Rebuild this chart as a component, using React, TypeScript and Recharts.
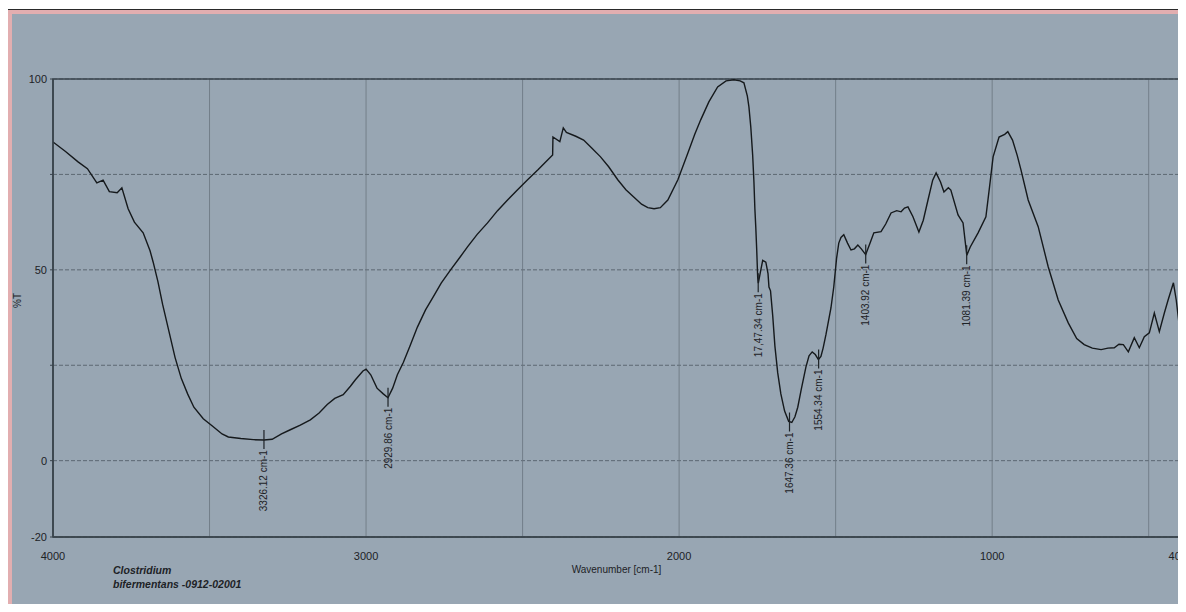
import {
  LineChart,
  Line,
  XAxis,
  YAxis,
  CartesianGrid,
  ReferenceArea,
  ReferenceDot,
  ReferenceLine,
} from "recharts";

// FTIR spectrum, wavenumber (cm-1) against %T
const wavenumbers = [
  4000, 3960, 3920, 3890, 3860, 3840, 3820, 3795, 3780, 3760, 3740, 3712, 3690, 3680, 3665, 3650,
  3630, 3610, 3590, 3570, 3550, 3520, 3490, 3460, 3440, 3400, 3360, 3326, 3300, 3270, 3242, 3210,
  3178, 3150, 3124, 3100, 3073, 3050, 3034, 3010, 3000, 2985, 2965, 2945, 2930, 2915, 2900, 2881,
  2860, 2836, 2810, 2785, 2760, 2730, 2700, 2676, 2645, 2612, 2580, 2548, 2516, 2484, 2450, 2420,
  2404, 2403, 2381, 2370, 2360, 2330, 2305, 2280, 2251, 2225, 2196, 2170, 2145, 2120, 2100, 2080,
  2060, 2036, 2004, 1972, 1950, 1931, 1905, 1877, 1850, 1825, 1805, 1793, 1782, 1777, 1771, 1765,
  1761, 1758, 1755, 1752, 1749, 1747, 1740, 1733, 1723, 1716, 1713, 1708, 1701, 1694, 1685, 1675,
  1663, 1650, 1640, 1630, 1621, 1610, 1595, 1585, 1575, 1565, 1555, 1547, 1540, 1531, 1515, 1506,
  1497, 1490, 1483, 1474, 1462, 1451, 1440, 1429, 1418, 1404, 1390, 1378, 1355, 1340, 1323, 1305,
  1291, 1280, 1269, 1253, 1234, 1220, 1205, 1190, 1179, 1165, 1154, 1140, 1132, 1109, 1093, 1081,
  1070, 1045, 1020, 1008, 997, 978, 960, 950, 935, 920, 908, 885, 853, 821, 789, 757,
  730, 706, 680, 652, 630, 610, 595, 581, 565, 546, 530, 514, 498, 482, 466, 450,
  438, 421, 412, 402,
];

const transmittance = [
  83.5, 81, 78.3, 76.5, 72.8, 73.5, 70.5, 70.2, 71.5, 66, 62.5, 59.7, 55, 52, 47, 41,
  34, 27, 21.5, 17.5, 14, 11, 9, 7, 6.2, 5.8, 5.5, 5.4, 5.6, 7, 8.1, 9.3,
  10.7, 12.5, 14.7, 16.3, 17.3, 19.5, 21.2, 23.5, 24, 22.5, 19, 17.5, 16.5, 19, 22.5, 25.7,
  30, 35, 39.5, 43, 46.5, 50, 53.3, 56, 59.3, 62.3, 65.5, 68.3, 71, 73.6, 76.3, 78.8,
  80.1, 84.8, 83.6, 87.2, 86, 85, 84, 82, 79.6, 77, 73.6, 71, 69.1, 67.2, 66.3, 66,
  66.3, 68.3, 73.6, 80.6, 85.5, 89.3, 94, 97.9, 99.5, 99.8, 99.5, 99, 95.5, 92.7, 87.4, 80,
  73, 66, 61, 55, 48, 46.5, 49.5, 52.5, 52, 49, 45.5, 44.5, 38, 30, 23, 17.5,
  13, 10.3, 10, 11.5, 14, 18.6, 24.5, 27.5, 28.5, 27.8, 26.5, 27.3, 29.5, 33, 40, 45.5,
  53, 57, 58.5, 59.2, 57, 55.2, 55.5, 56.5, 55.5, 54, 57, 59.7, 60, 62, 64.9, 65.5,
  65.2, 66.2, 66.5, 63.9, 59.9, 63, 68.3, 73.5, 75.4, 73, 70.4, 71.5, 70.9, 64.4, 62.3, 53.8,
  56, 59.7, 63.9, 72, 79.6, 84.8, 85.5, 86.2, 84, 80, 76.2, 68.3, 61.3, 50.8, 42.1, 36.1,
  32, 30.4, 29.5, 29.1, 29.5, 29.6, 30.5, 30.4, 28.5, 32.2, 29.6, 32.5, 33.5, 38.7, 33.8, 38.7,
  42.1, 46.6, 42.1, 35.1,
];

// picked peaks
const peakWavenumbers = [3326.12, 2929.86, 1747.34, 1647.36, 1554.34, 1403.92, 1081.39];
const peakValues = [5.4, 16.5, 46.5, 10, 26.5, 54, 53.8];
const peakLabels = [
  "3326.12 cm-1",
  "2929.86 cm-1",
  "17,47.34 cm-1",
  "1647.36 cm-1",
  "1554.34 cm-1",
  "1403.92 cm-1",
  "1081.39 cm-1",
];

const xTicks = [4000, 3500, 3000, 2500, 2000, 1500, 1000, 500, 400];
const yTicks = [-20, 0, 25, 50, 75, 100];

const spectrum = wavenumbers.map((w, i) => ({ w, t: transmittance[i] }));

const FONT = '"Liberation Sans Narrow", "Liberation Sans", Arial, sans-serif';
const INK = "#1d2226";
const FRAME = "#3a444d";

const PeakMark = (label: string) => (props: any) => {
  const { cx, cy } = props;
  if (cx == null || cy == null) return <g />;
  return (
    <g>
      <line x1={cx} y1={cy - 10} x2={cx} y2={cy + 9} stroke={INK} strokeWidth={1.2} />
      <text
        x={cx}
        y={cy + 10}
        transform={`rotate(-90 ${cx} ${cy + 10})`}
        textAnchor="end"
        dominantBaseline="central"
        fontSize={10}
        fontFamily={FONT}
        fill={INK}
      >
        {label}
      </text>
    </g>
  );
};

const App = () => {
  return (
    <div
      style={{
        position: "relative",
        margin: -8,
        width: 1186,
        height: 612,
        background: "#ffffff",
        overflow: "hidden",
      }}
    >
      <div
        style={{
          position: "absolute",
          left: 7,
          top: 9,
          right: 0,
          bottom: 0,
          borderTop: "1px solid #2a2a2a",
          borderLeft: "1px solid #2a2a2a",
          background: "#e2aeb0",
        }}
      >
        <div
          style={{
            position: "absolute",
            left: 4,
            top: 4,
            right: 0,
            bottom: 0,
            background: "#98a6b3",
          }}
        />
      </div>

      <div style={{ position: "absolute", left: 0, top: 0 }}>
        <LineChart
          width={1186}
          height={612}
          data={spectrum}
          margin={{ top: 79, right: 6, bottom: 39, left: 13 }}
        >
          <CartesianGrid
            vertical={false}
            stroke="#56616b"
            strokeDasharray="4 2"
            strokeWidth={0.9}
          />
          <CartesianGrid horizontal={false} stroke="#6a757f" strokeWidth={0.8} />
          <XAxis
            dataKey="w"
            type="number"
            domain={[400, 4000]}
            reversed
            ticks={xTicks}
            tickFormatter={(v: number) => (v % 1000 === 0 || v === 400 ? String(v) : "")}
            height={36}
            tickLine={false}
            tickMargin={9}
            axisLine={{ stroke: FRAME, strokeWidth: 1.5 }}
            tick={{ fontSize: 11, fill: INK, fontFamily: FONT }}
            allowDataOverflow
            label={{
              value: "Wavenumber [cm-1]",
              position: "insideBottom",
              offset: 0,
              fontSize: 10,
              fill: INK,
              fontFamily: FONT,
            }}
          />
          <YAxis
            type="number"
            domain={[-20, 100]}
            ticks={yTicks}
            tickFormatter={(v: number) => (v === 25 || v === 75 ? "" : String(v))}
            width={40}
            tickSize={3}
            tickMargin={3}
            axisLine={{ stroke: FRAME, strokeWidth: 1.5 }}
            tickLine={{ stroke: FRAME }}
            tick={{ fontSize: 11, fill: INK, fontFamily: FONT }}
            allowDataOverflow
            label={{
              value: "%T",
              angle: -90,
              position: "insideLeft",
              offset: 4,
              fontSize: 10,
              fill: INK,
              fontFamily: FONT,
            }}
          />
          <ReferenceArea
            x1={4000}
            x2={400}
            y1={-20}
            y2={100}
            fill="none"
            stroke={FRAME}
            strokeWidth={1.5}
          />
          <ReferenceLine x={400} stroke={FRAME} strokeWidth={2} />
          <Line
            type="linear"
            dataKey="t"
            stroke="#15191c"
            strokeWidth={1.4}
            dot={false}
            isAnimationActive={false}
          />
          {peakWavenumbers.map((w, i) => (
            <ReferenceDot
              key={w}
              x={w}
              y={peakValues[i]}
              r={0}
              shape={PeakMark(peakLabels[i])}
            />
          ))}
        </LineChart>
      </div>

      <div
        style={{
          position: "absolute",
          left: 113,
          top: 563,
          fontFamily: '"Liberation Sans", Arial, sans-serif',
          fontSize: 10.5,
          fontWeight: "bold",
          fontStyle: "italic",
          lineHeight: "14px",
          color: "#1d2226",
        }}
      >
        Clostridium
        <br />
        bifermentans -0912-02001
      </div>
    </div>
  );
};

export default App;
